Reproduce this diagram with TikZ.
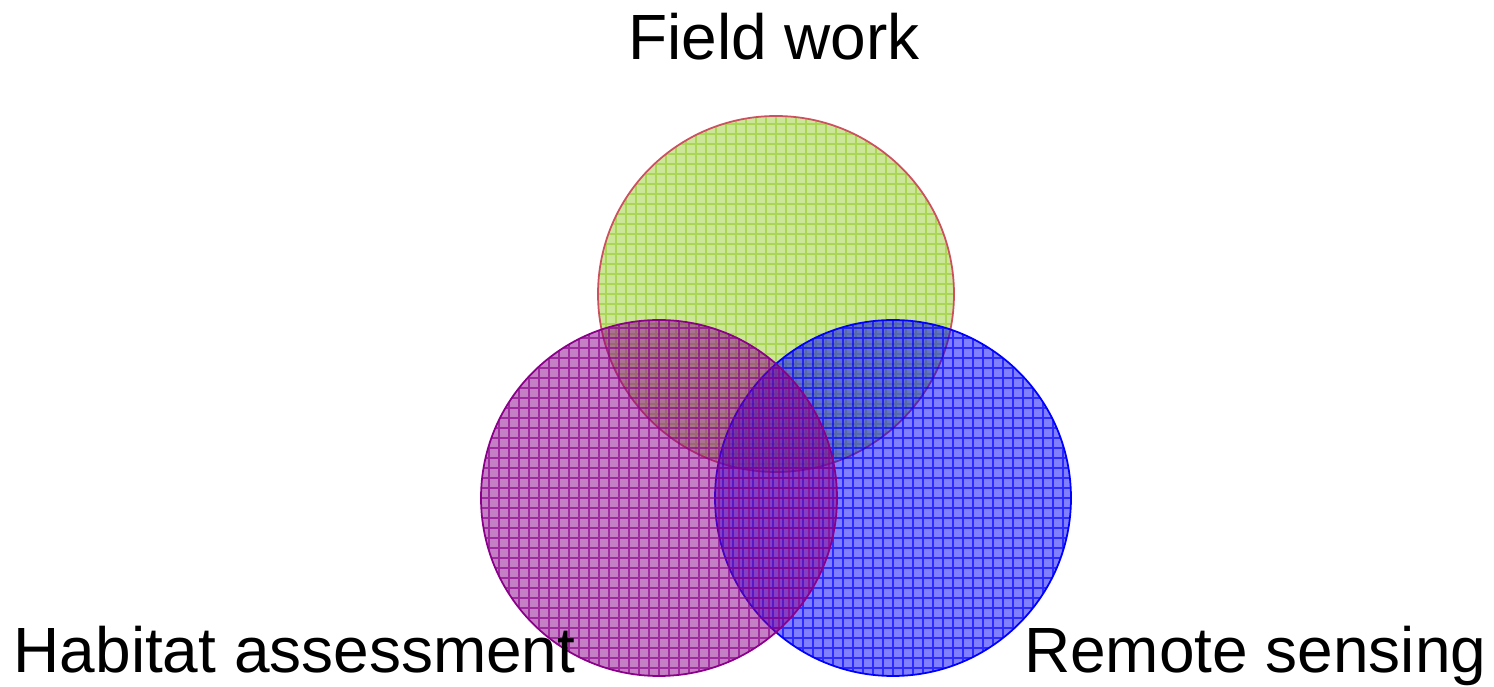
\documentclass[tikz,border=0pt]{standalone}
\usepackage{fontspec}
\setmainfont{Liberation Sans}

\definecolor{fieldgreen}{RGB}{154,205,50}
\definecolor{fieldedge}{RGB}{205,80,95}
\definecolor{habitatpurple}{RGB}{139,0,139}
\definecolor{remoteblue}{RGB}{0,0,255}

\tikzset{
  vennset/.style 2 args={circle, minimum size=3.56cm, inner sep=0pt,
    draw=#1, line width=0.5pt, fill=#2, fill opacity=0.5,
    path picture={\draw[#2, line width=0.3pt, draw opacity=0.65, step=1mm]
      (path picture bounding box.south west) grid (path picture bounding box.north east);}},
  setlabel/.style={inner sep=0pt, font=\fontsize{18.2}{21}\selectfont}
}

\begin{document}
\begin{tikzpicture}

\useasboundingbox (0,0) rectangle (14.94,6.87);

%% the three sets (habitat drawn last, on top)
\node[vennset={fieldedge}{fieldgreen}] (field) at (7.76,3.93) {};
\node[vennset={remoteblue}{remoteblue}] (remote) at (8.93,1.89) {};
\node[vennset={habitatpurple}{habitatpurple}] (habitat) at (6.59,1.89) {};

%% names
\node[setlabel, anchor=base] (fieldname) at (7.74,6.27) {Field work};
\node[setlabel, anchor=base west] (habitatname) at (0.13,0.14) {Habitat assessment};
\node[setlabel, anchor=base east] (remotename) at (14.87,0.14) {Remote sensing};

\end{tikzpicture}
\end{document}
